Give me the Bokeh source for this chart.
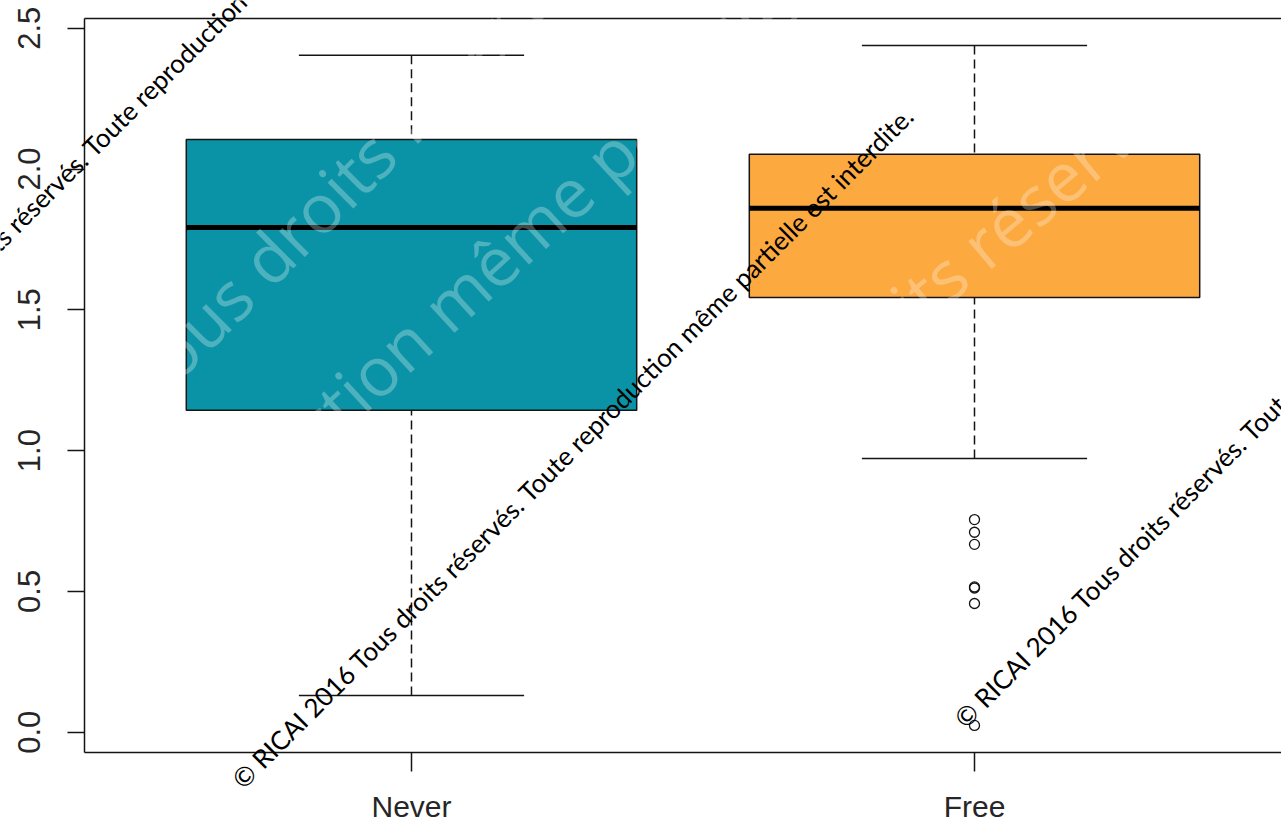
import math

from bokeh.embed import file_html
from bokeh.models import ColumnDataSource, FixedTicker, Label, LinearAxis
from bokeh.plotting import figure
from bokeh.resources import INLINE

# --- summary statistics per group (R-style boxplot) ---
categories = ["Never", "Free"]
box_colors = ["#0A93A6", "#FCA940"]
lower_whisker = [0.130, 0.972]
q1 = [1.143, 1.544]
median = [1.792, 1.861]
q3 = [2.105, 2.052]
upper_whisker = [2.404, 2.439]

# points beyond the whiskers
outlier_group = ["Free", "Free", "Free", "Free", "Free", "Free", "Free"]
outlier_values = [0.755, 0.710, 0.667, 0.516, 0.512, 0.457, 0.024]

y_ticks = [0.0, 0.5, 1.0, 1.5, 2.0, 2.5]

notice = ("\u00a9 RICAI 2016 Tous droits r\u00e9serv\u00e9s. "
          "Toute reproduction m\u00eame partielle est interdite.")

# --- geometry ---
positions = [i + 1 for i in range(len(categories))]
half_box = 0.4
half_staple = 0.2

# plotting region (box drawn around the data, R style)
REG_X0, REG_X1 = 0.42, 2.60
REG_Y0, REG_Y1 = -0.071, 2.533

boxes = ColumnDataSource(dict(
    x=positions,
    left=[x - half_box for x in positions],
    right=[x + half_box for x in positions],
    sl=[x - half_staple for x in positions],
    sr=[x + half_staple for x in positions],
    lo=lower_whisker, q1=q1, med=median, q3=q3, hi=upper_whisker,
    color=box_colors,
))

outliers = ColumnDataSource(dict(
    x=[positions[categories.index(g)] for g in outlier_group],
    y=outlier_values,
))

# the frame fills the whole canvas; axes sit at fixed locations inside it
p = figure(
    width=1281, height=826,
    x_range=(0.270, 2.5453), y_range=(-0.3349, 2.5984),
    output_backend="svg", toolbar_location=None,
    x_axis_location=None, y_axis_location=None,
    min_border=0,
)
p.outline_line_color = None
p.grid.visible = False
p.background_fill_color = "white"
p.border_fill_color = "white"

ink = "#141414"

# whiskers (dashed) and staples
p.segment(x0="x", y0="hi", x1="x", y1="q3", source=boxes,
          line_color=ink, line_width=1.5, line_dash="9 5")
p.segment(x0="x", y0="lo", x1="x", y1="q1", source=boxes,
          line_color=ink, line_width=1.5, line_dash="9 5")
p.segment(x0="sl", y0="hi", x1="sr", y1="hi", source=boxes,
          line_color=ink, line_width=1.5)
p.segment(x0="sl", y0="lo", x1="sr", y1="lo", source=boxes,
          line_color=ink, line_width=1.5)

# boxes and medians
p.quad(left="left", right="right", bottom="q1", top="q3", source=boxes,
       fill_color="color", line_color=ink, line_width=1.5)
p.segment(x0="left", y0="med", x1="right", y1="med", source=boxes,
          line_color="black", line_width=5, line_cap="butt")

# outliers
p.scatter(x="x", y="y", source=outliers, marker="circle", size=10,
          fill_color=None, line_color=ink, line_width=1.3)

# axes
axis_font = "Liberation Sans"
xaxis = LinearAxis(fixed_location=REG_Y0, bounds=(REG_X0, REG_X1),
                   ticker=FixedTicker(ticks=positions),
                   major_label_overrides={x: c for x, c in zip(positions, categories)})
yaxis = LinearAxis(fixed_location=REG_X0, bounds=(REG_Y0, REG_Y1),
                   ticker=FixedTicker(ticks=y_ticks),
                   major_label_overrides={t: f"{t:.1f}" for t in y_ticks},
                   major_label_orientation="vertical")
topaxis = LinearAxis(fixed_location=REG_Y1, bounds=(REG_X0, REG_X1),
                     ticker=FixedTicker(ticks=[]),
                     major_label_text_color=None)

for ax in (xaxis, yaxis, topaxis):
    ax.axis_line_color = ink
    ax.axis_line_width = 1.5
    ax.major_tick_line_color = ink
    ax.major_tick_line_width = 1.5
    ax.major_tick_in = 0
    ax.minor_tick_line_color = None
    ax.major_label_text_font = axis_font
    if ax is not topaxis:
        ax.major_label_text_color = "#262626"

xaxis.major_label_text_font_size = "30px"
yaxis.major_label_text_font_size = "31px"
xaxis.major_tick_out = 19
xaxis.major_label_standoff = 19
yaxis.major_tick_out = 17
yaxis.major_label_standoff = 28

p.add_layout(xaxis, "below")
p.add_layout(yaxis, "left")
p.add_layout(topaxis, "above")

# large translucent copyright overlay
big = [
    ("Tous droits r\u00e9serv\u00e9s.", 0.504, 1.208, 45),
    ("reproduction m\u00eame partielle", 0.469, 0.433, 42.5),
    ("droits r\u00e9serv\u00e9s.", 1.718, 1.243, 40),
]
for txt, x, y, deg in big:
    p.add_layout(Label(x=x, y=y, text=txt, angle=math.radians(deg),
                       text_font="Open Sans", text_font_size="68px",
                       text_color="white", text_alpha=0.28,
                       text_baseline="alphabetic", text_align="left"))

# small diagonal copyright notice lines
small = [(0.689, -0.182), (1.972, 0.034), (-0.085, 1.044)]
for x, y in small:
    p.add_layout(Label(x=x, y=y, text=notice, angle=math.radians(45),
                       text_font="Lato", text_font_size="26px",
                       text_color="black",
                       text_baseline="alphabetic", text_align="left"))

open("out.html", "w").write(file_html(p, INLINE))
